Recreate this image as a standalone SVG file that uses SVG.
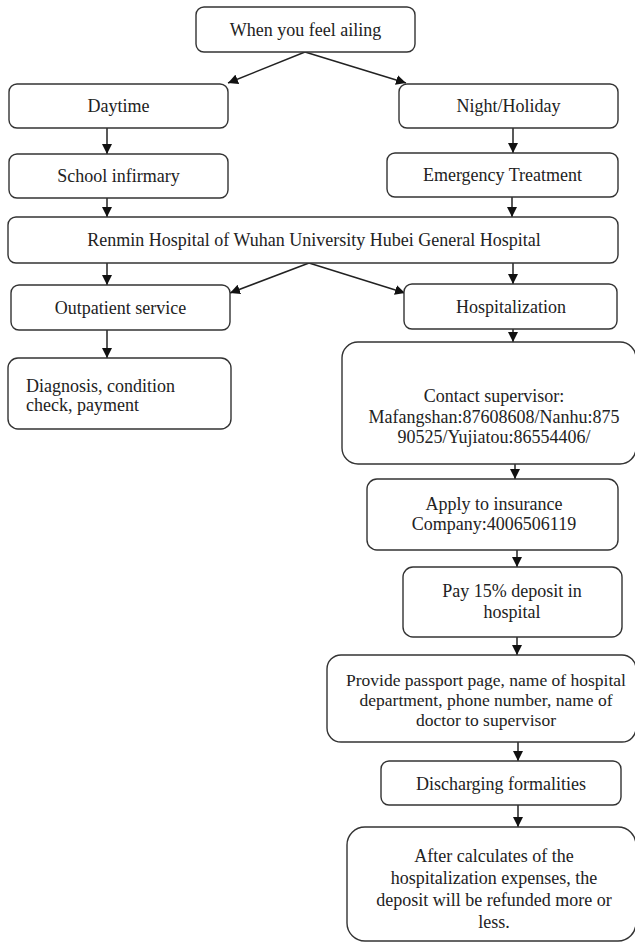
<svg xmlns="http://www.w3.org/2000/svg" width="635" height="944" viewBox="0 0 635 944">
<defs>
<style>
.box{fill:#fff;stroke:#333;stroke-width:1.4}
.t{font-family:"Liberation Serif","Times New Roman",serif;font-size:18px;fill:#222;text-anchor:middle}
.tl{font-family:"Liberation Serif","Times New Roman",serif;font-size:18px;fill:#222;text-anchor:start}
.c{stroke:#222;stroke-width:1.5;fill:none;marker-end:url(#ah)}
</style>
<marker id="ah" viewBox="0 0 10 10" refX="10" refY="5" markerWidth="10" markerHeight="10" markerUnits="userSpaceOnUse" orient="auto">
<path d="M0,0 L10,5 L0,10 Z" fill="#111"/>
</marker>
</defs>
<rect width="635" height="944" fill="#fff"/>
<g id="connectors">
<line class="c" x1="305" y1="52" x2="228" y2="83"/>
<line class="c" x1="305" y1="52" x2="406" y2="83"/>
<line class="c" x1="107" y1="128" x2="107" y2="154"/>
<line class="c" x1="513" y1="128" x2="513" y2="153"/>
<line class="c" x1="107" y1="198" x2="107" y2="217"/>
<line class="c" x1="512" y1="197" x2="512" y2="217"/>
<line class="c" x1="107" y1="263" x2="107" y2="285"/>
<line class="c" x1="309" y1="263" x2="230" y2="293"/>
<line class="c" x1="309" y1="263" x2="405" y2="293"/>
<line class="c" x1="513" y1="263" x2="513" y2="284"/>
<line class="c" x1="107" y1="330" x2="107" y2="358"/>
<line class="c" x1="513" y1="329" x2="513" y2="342"/>
<line class="c" x1="515" y1="464" x2="515" y2="479"/>
<line class="c" x1="517" y1="550" x2="517" y2="567"/>
<line class="c" x1="517" y1="637" x2="517" y2="655"/>
<line class="c" x1="518" y1="742" x2="518" y2="761"/>
<line class="c" x1="518" y1="805" x2="518" y2="827"/>
</g>
<g id="n-ailing"><rect class="box" x="196" y="7" width="219" height="45" rx="8"/><text class="t" x="305.5" y="36">When you feel ailing</text></g>
<g id="n-daytime"><rect class="box" x="9" y="84" width="219" height="44" rx="8"/><text class="t" x="118.5" y="112">Daytime</text></g>
<g id="n-night"><rect class="box" x="399" y="84" width="219" height="44" rx="8"/><text class="t" x="508.5" y="112">Night/Holiday</text></g>
<g id="n-school"><rect class="box" x="9" y="154" width="219" height="44" rx="8"/><text class="t" x="118.5" y="182">School infirmary</text></g>
<g id="n-emergency"><rect class="box" x="387" y="153" width="231" height="44" rx="8"/><text class="t" x="502.5" y="181">Emergency Treatment</text></g>
<g id="n-renmin"><rect class="box" x="8" y="217" width="610" height="46" rx="8"/><text class="t" x="314" y="246">Renmin Hospital of Wuhan University Hubei General Hospital</text></g>
<g id="n-outpatient"><rect class="box" x="11" y="285" width="219" height="45" rx="8"/><text class="t" x="120.5" y="314">Outpatient service</text></g>
<g id="n-hospitalization"><rect class="box" x="404" y="284" width="213" height="45" rx="8"/><text class="t" x="511" y="313">Hospitalization</text></g>
<g id="n-diagnosis"><rect class="box" x="8" y="358" width="223" height="71" rx="10"/><text class="tl" x="26" y="392">Diagnosis, condition</text><text class="tl" x="26" y="411">check, payment</text></g>
<g id="n-contact"><rect class="box" x="342" y="342" width="294" height="122" rx="16"/><text class="t" x="494" y="402">Contact supervisor:</text><text class="t" x="494" y="423">Mafangshan:87608608/Nanhu:875</text><text class="t" x="494" y="443">90525/Yujiatou:86554406/</text></g>
<g id="n-apply"><rect class="box" x="367" y="479" width="251" height="71" rx="10"/><text class="t" x="494" y="510">Apply to insurance</text><text class="t" x="494" y="530">Company:4006506119</text></g>
<g id="n-pay"><rect class="box" x="403" y="567" width="219" height="70" rx="10"/><text class="t" x="512" y="597">Pay 15% deposit in</text><text class="t" x="512" y="618">hospital</text></g>
<g id="n-provide"><rect class="box" x="327" y="655" width="309" height="87" rx="14"/><g class="t" style="font-size:17.5px"><text x="486" y="686">Provide passport page, name of hospital</text><text x="486" y="706">department, phone number, name of</text><text x="486" y="726">doctor to supervisor</text></g></g>
<g id="n-discharging"><rect class="box" x="381" y="761" width="240" height="44" rx="8"/><text class="t" x="501" y="790">Discharging formalities</text></g>
<g id="n-after"><rect class="box" x="347" y="827" width="289" height="114" rx="18"/><text class="t" x="494" y="862">After calculates of the</text><text class="t" x="494" y="884">hospitalization expenses, the</text><text class="t" x="494" y="906">deposit will be refunded more or</text><text class="t" x="494" y="928">less.</text></g>
</svg>
